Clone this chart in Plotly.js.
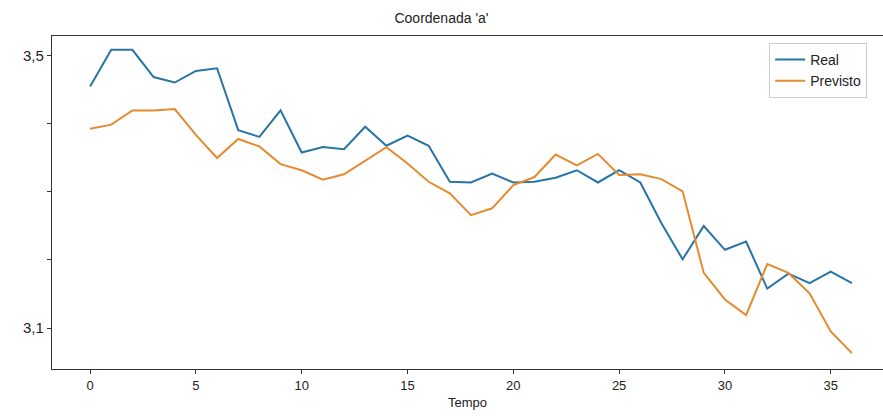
<!DOCTYPE html>
<html>
<head>
<meta charset="utf-8">
<script src="https://cdn.plot.ly/plotly-3.0.1.min.js"></script>
<style>html,body{margin:0;padding:0;background:#fff;}#chart{width:883px;height:416px;}</style>
</head>
<body>
<div id="chart"></div>
<script>
const tempo = Array.from({length: 37}, (_, i) => i);
const real = [3.455, 3.509, 3.509, 3.469, 3.461, 3.478, 3.482, 3.391, 3.381, 3.420,
  3.358, 3.366, 3.363, 3.396, 3.368, 3.383, 3.368, 3.315, 3.314, 3.327,
  3.314, 3.315, 3.321, 3.332, 3.314, 3.332, 3.314, 3.254, 3.201, 3.250,
  3.215, 3.227, 3.158, 3.180, 3.166, 3.183, 3.166];
const previsto = [3.393, 3.399, 3.420, 3.420, 3.422, 3.384, 3.350, 3.378, 3.367, 3.341,
  3.332, 3.318, 3.326, 3.346, 3.366, 3.342, 3.315, 3.298, 3.266, 3.276,
  3.310, 3.322, 3.355, 3.339, 3.356, 3.325, 3.326, 3.319, 3.301, 3.181,
  3.142, 3.119, 3.194, 3.181, 3.151, 3.095, 3.063];
const yTickVals = [3.1, 3.2, 3.3, 3.4, 3.5];
const yTickText = ['3,1', '', '', '', '3,5'];
const xTickVals = [0, 5, 10, 15, 20, 25, 30, 35];

const fam = 'Liberation Sans, Arial, sans-serif';

Plotly.newPlot('chart', [
  {x: tempo, y: real, name: 'Real', mode: 'lines', line: {color: '#2874a4', width: 2}},
  {x: tempo, y: previsto, name: 'Previsto', mode: 'lines', line: {color: '#e38b2e', width: 2}}
], {
  width: 883, height: 416,
  margin: {l: 52, r: 0, t: 36, b: 47},
  paper_bgcolor: '#fff', plot_bgcolor: '#fff',
  font: {family: fam, size: 13, color: '#222'},
  title: {text: "Coordenada 'a'", x: 0.5, xanchor: 'center', y: 0.957, yanchor: 'middle', font: {family: fam, size: 14, color: '#222'}},
  xaxis: {
    range: [-1.8, 37.47], tickvals: xTickVals, showgrid: false, zeroline: false,
    showline: true, linecolor: '#333', linewidth: 1.2, mirror: true,
    ticks: 'outside', ticklen: 4, tickcolor: '#333',
    tickfont: {family: fam, size: 13, color: '#222'},
    title: {text: 'Tempo', standoff: 6, font: {family: fam, size: 13, color: '#222'}}
  },
  yaxis: {
    range: [3.0397, 3.5294], tickvals: yTickVals, ticktext: yTickText, showgrid: false, zeroline: false,
    showline: true, linecolor: '#333', linewidth: 1.2,
    ticks: 'outside', ticklen: 4, tickcolor: '#333',
    tickfont: {family: fam, size: 15, color: '#222'}
  },
  legend: {
    x: 0.863, y: 0.979, xanchor: 'left', yanchor: 'top',
    bgcolor: 'rgba(255,255,255,0.9)', bordercolor: '#ccc', borderwidth: 1,
    font: {family: fam, size: 14, color: '#222'}
  },
  showlegend: true
}, {displayModeBar: false, staticPlot: true});
</script>
</body>
</html>
